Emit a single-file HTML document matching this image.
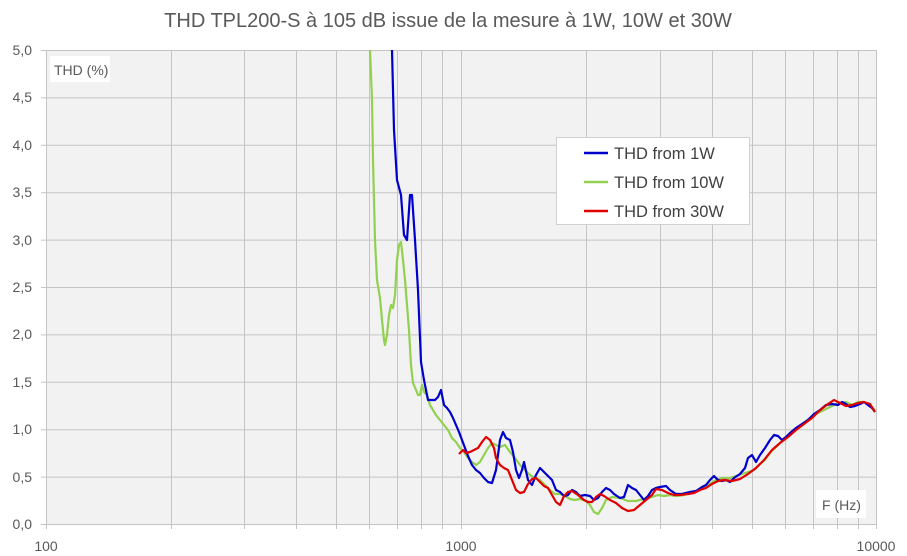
<!DOCTYPE html>
<html><head><meta charset="utf-8"><style>
body{margin:0;background:#fff;}
svg{display:block;font-family:"Liberation Sans",sans-serif;}
</style></head><body>
<svg width="907" height="556" viewBox="0 0 907 556" xmlns="http://www.w3.org/2000/svg">
<rect width="907" height="556" fill="#fff"/>
<text x="448" y="27" text-anchor="middle" font-size="20" fill="#595959">THD TPL200-S à 105 dB issue de la mesure à 1W, 10W et 30W</text>
<rect x="46" y="50" width="831" height="474" fill="#f2f2f2"/>
<g stroke="#c4c4c4" stroke-width="1">
<line x1="41" y1="50.5" x2="877" y2="50.5"/>
<line x1="41" y1="97.9" x2="877" y2="97.9"/>
<line x1="41" y1="145.3" x2="877" y2="145.3"/>
<line x1="41" y1="192.7" x2="877" y2="192.7"/>
<line x1="41" y1="240.1" x2="877" y2="240.1"/>
<line x1="41" y1="287.5" x2="877" y2="287.5"/>
<line x1="41" y1="334.9" x2="877" y2="334.9"/>
<line x1="41" y1="382.3" x2="877" y2="382.3"/>
<line x1="41" y1="429.7" x2="877" y2="429.7"/>
<line x1="41" y1="477.1" x2="877" y2="477.1"/>
<line x1="41" y1="524.5" x2="877" y2="524.5"/>
</g>
<g stroke="#c4c4c4" stroke-width="1">
<line x1="46.5" y1="50" x2="46.5" y2="529"/>
<line x1="171.5" y1="50" x2="171.5" y2="529"/>
<line x1="244.5" y1="50" x2="244.5" y2="529"/>
<line x1="296.5" y1="50" x2="296.5" y2="529"/>
<line x1="336.5" y1="50" x2="336.5" y2="529"/>
<line x1="369.5" y1="50" x2="369.5" y2="529"/>
<line x1="397.5" y1="50" x2="397.5" y2="529"/>
<line x1="421.5" y1="50" x2="421.5" y2="529"/>
<line x1="442.5" y1="50" x2="442.5" y2="529"/>
<line x1="461.5" y1="50" x2="461.5" y2="529"/>
<line x1="586.5" y1="50" x2="586.5" y2="529"/>
<line x1="660.5" y1="50" x2="660.5" y2="529"/>
<line x1="712.5" y1="50" x2="712.5" y2="529"/>
<line x1="752.5" y1="50" x2="752.5" y2="529"/>
<line x1="785.5" y1="50" x2="785.5" y2="529"/>
<line x1="813.5" y1="50" x2="813.5" y2="529"/>
<line x1="837.5" y1="50" x2="837.5" y2="529"/>
<line x1="858.5" y1="50" x2="858.5" y2="529"/>
<line x1="876.5" y1="50" x2="876.5" y2="529"/>
</g>
<g font-size="14" fill="#595959" text-anchor="end">
<text x="32" y="55">5,0</text><text x="32" y="102">4,5</text><text x="32" y="150">4,0</text>
<text x="32" y="197">3,5</text><text x="32" y="245">3,0</text><text x="32" y="292">2,5</text>
<text x="32" y="339">2,0</text><text x="32" y="387">1,5</text><text x="32" y="434">1,0</text>
<text x="32" y="482">0,5</text><text x="32" y="529">0,0</text>
</g>
<g font-size="14" fill="#595959" text-anchor="middle">
<text x="46" y="551">100</text><text x="461" y="551">1000</text><text x="876" y="551">10000</text>
</g>
<rect x="50" y="56" width="60" height="26" fill="#fff"/>
<text x="54" y="75" font-size="14" fill="#595959">THD (%)</text>
<rect x="816" y="490" width="50" height="28" fill="#fff"/>
<text x="822" y="510" font-size="14" fill="#595959">F (Hz)</text>
<g fill="none" stroke-width="2.2" stroke-linejoin="round">
<polyline stroke="#92d050" points="370,50 372,100 373,160 375,240 377,280 380,298 382,320 384,340 385,345 387,335 389,315 391,305 393,308 395,295 397,260 399,245 401,242 403,260 405,280 407,305 409,330 411,365 413,383 416,390 418,395 420,395 422,385 424,392 427,395 430,405 433,410 436,415 440,420 444,425 448,430 452,438 456,442 460,448 464,452 468,458 472,462 476,465 480,462 484,455 488,448 492,443 496,445 500,447 505,445 510,452 515,458 520,465 525,470 530,475 535,478 540,480 545,485 550,490 555,494 560,494 565,496 570,499 575,500 580,499 586,501 590,505 594,512 598,514 602,508 606,500 612,497 620,498 628,501 636,501 644,499 652,497 658,495 664,496 670,495 676,496 684,495 692,492 700,490 708,485 716,480 722,478 730,478 736,476 742,474 748,472 754,470 760,464 765,460 770,453 778,445 786,437 794,430 802,424 810,418 818,413 824,410 830,407 838,403 846,402 852,405 858,402 864,402 870,406 875,410"/>
<polyline stroke="#0000cc" points="392,50 394,130 397,180 401,195 404,235 407,240 410,195 412,195 415,240 418,290 421,362 424,380 428,400 431,400 435,400 438,397 441,390 444,405 447,408 450,412 453,418 456,425 459,432 462,440 465,448 468,456 472,465 476,470 480,473 484,478 488,482 492,483 496,470 500,440 503,432 506,438 510,440 513,452 516,470 519,478 522,470 524,462 528,480 532,485 536,475 540,468 544,472 548,476 552,480 556,490 560,492 564,496 568,495 572,490 576,492 580,496 585,495 590,496 594,500 598,498 602,492 606,488 610,490 614,494 620,498 624,497 628,485 632,488 636,490 640,495 644,500 648,496 652,490 656,488 660,487 666,486 670,490 676,494 682,494 690,492 696,491 702,487 706,485 710,480 714,476 718,480 722,481 726,480 730,482 734,478 740,474 745,468 748,458 752,455 756,462 760,455 765,448 770,440 774,435 778,436 782,440 786,437 790,433 796,428 802,424 808,420 814,414 820,410 826,405 832,404 838,405 842,402 846,404 850,407 855,406 860,404 864,402 868,405 872,408 875,412"/>
<polyline stroke="#e00000" points="459,454 463,450 466,453 470,452 474,450 478,448 482,442 486,437 490,440 494,448 496,458 500,465 504,468 508,470 512,480 516,490 520,493 524,492 528,484 532,479 536,478 540,482 544,486 548,488 552,495 556,502 560,505 564,496 568,492 572,491 578,495 584,500 588,502 592,502 596,497 600,494 604,496 610,500 616,503 622,508 628,511 634,510 640,505 646,500 652,495 656,489 662,490 668,493 674,495 680,495 688,494 694,493 700,490 706,488 712,484 718,481 724,480 732,481 740,479 748,474 756,468 764,460 772,450 780,443 788,437 796,430 804,424 812,418 818,412 824,407 828,404 834,400 840,403 846,406 852,405 858,403 864,402 870,404 875,412"/>
</g>
<rect x="556.5" y="137.5" width="193" height="87" fill="#fff" stroke="#d0d0d0"/>
<g stroke-width="2.5">
<line x1="584" y1="153" x2="608" y2="153" stroke="#0000cc"/>
<line x1="584" y1="182" x2="608" y2="182" stroke="#92d050"/>
<line x1="584" y1="211" x2="608" y2="211" stroke="#e00000"/>
</g>
<g font-size="16.5" fill="#404040">
<text x="614" y="159">THD from 1W</text>
<text x="614" y="188">THD from 10W</text>
<text x="614" y="217">THD from 30W</text>
</g>
</svg>
</body></html>
